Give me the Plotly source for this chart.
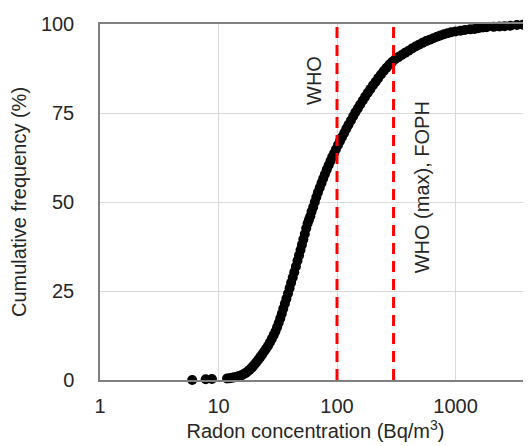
import math
import plotly.graph_objects as go

# Radon concentration (Bq/m3) and cumulative frequency (%)
radon = [6.0, 7.8, 8.8, 11.8, 12.4, 13.0, 13.6, 14.3, 14.9, 15.6, 16.3, 17.0, 17.6, 18.3,
         19.0, 19.6, 20.3, 21.0, 21.8, 22.6, 23.4, 24.3, 25.2, 26.2, 27.2, 28.2, 29.2, 30.2,
         31.2, 32.2, 33.2, 34.2, 35.2, 36.3, 37.4, 38.6, 39.8, 41.0, 42.3, 43.6, 45.0, 46.4,
         47.8, 49.2, 50.6, 52.0, 53.5, 55.0, 56.5, 58.0, 59.5, 61.0, 63.0, 65.0, 67.0, 69.0,
         71.5, 74.0, 76.5, 79.0, 82.0, 85.0, 88.0, 91.0, 94.5, 98.0, 102, 106, 110, 115, 120,
         125, 131, 137, 143, 150, 157, 165, 173, 182, 191, 201, 212, 223, 235, 248, 262, 277,
         293, 310, 330, 352, 376, 402, 430, 460, 492, 528, 566, 607, 650, 697, 748, 800, 858,
         920, 1000, 1100, 1200, 1330, 1450, 1560, 1700, 1830, 2100, 2350, 2600, 2900, 3300,
         3700, 4200, 4800]
cum_freq = [0.0, 0.2, 0.3, 0.4, 0.5, 0.6, 0.8, 0.9, 1.1, 1.3, 1.6, 2.0, 2.4, 2.9,
            3.4, 3.9, 4.5, 5.1, 5.8, 6.5, 7.2, 8.0, 8.8, 9.6, 10.6, 11.6, 12.6, 13.6,
            14.8, 16.0, 17.3, 18.6, 20.0, 21.4, 22.8, 24.3, 25.8, 27.3, 28.8, 30.3, 31.9, 33.5,
            35.0, 36.5, 38.0, 39.5, 41.0, 42.6, 44.0, 45.0, 46.0, 47.3, 48.6, 50.0, 51.4, 52.7,
            54.0, 55.3, 56.6, 57.8, 59.1, 60.3, 61.5, 62.6, 63.7, 64.8, 66.0, 67.1, 68.2, 69.4, 70.6,
            71.7, 72.9, 74.1, 75.2, 76.3, 77.4, 78.5, 79.6, 80.7, 81.7, 82.8, 83.8, 84.8, 85.8, 86.8, 87.7, 88.6,
            89.4, 90.1, 90.7, 91.3, 91.9, 92.5, 93.1, 93.7, 94.2, 94.7, 95.2, 95.6, 96.0, 96.4, 96.8, 97.1, 97.4,
            97.7, 97.9, 98.1, 98.3, 98.5, 98.6, 98.8, 99.0, 99.1, 99.2, 99.3, 99.4, 99.5, 99.7,
            99.8, 99.9, 100.0]

# Reference levels (Bq/m3)
ref_values = [100, 300]
ref_labels = ["WHO", "WHO (max), FOPH"]
ref_label_y = [84, 54]
ref_label_shift = [-23, 28]

x_ticks = [1, 10, 100, 1000]
y_ticks = [0, 25, 50, 75, 100]

FONT = "Liberation Sans, Arial, sans-serif"
TXT = "#262626"

fig = go.Figure()
fig.add_trace(go.Scatter(
    x=radon, y=cum_freq, mode="markers",
    marker=dict(color="black", size=10, line=dict(width=0)),
    cliponaxis=False, showlegend=False,
))
for v in ref_values:
    fig.add_trace(go.Scatter(
        x=[v, v], y=[0, 100], mode="lines",
        line=dict(color="#ff0000", width=3, dash="11px,7px"),
        showlegend=False, hoverinfo="skip",
    ))

for v, lab, yy, sh in zip(ref_values, ref_labels, ref_label_y, ref_label_shift):
    fig.add_annotation(
        x=math.log10(v), y=yy, text=lab, textangle=-90, showarrow=False,
        xshift=sh, font=dict(family=FONT, size=20, color=TXT),
    )

# The page body has an 8px default margin, so the figure is sized/offset to fit the window.
fig.update_layout(
    width=523, height=438,
    margin=dict(l=92, r=0, t=16, b=66, autoexpand=False),
    paper_bgcolor="white", plot_bgcolor="white",
    font=dict(family=FONT, size=20, color=TXT),
    xaxis=dict(
        type="log", range=[0, 3.637], automargin=False,
        tickvals=x_ticks, ticktext=[str(t) for t in x_ticks],
        showgrid=True, gridcolor="#d9d9d9", gridwidth=1,
        showline=True, linecolor="#808080", linewidth=1.5, mirror=True,
        ticks="", ticklabelstandoff=7, zeroline=False,
        title=dict(text="Radon concentration (Bq/m<sup>3</sup>)", standoff=3,
                   font=dict(family=FONT, size=20, color=TXT)),
    ),
    yaxis=dict(
        range=[0, 100], tickvals=y_ticks, automargin=False,
        showgrid=True, gridcolor="#d9d9d9", gridwidth=1,
        showline=True, linecolor="#808080", linewidth=1.5,
        ticks="", ticklabelstandoff=20, zeroline=False,
        title=dict(text="Cumulative frequency (%)", standoff=13,
                   font=dict(family=FONT, size=20, color=TXT)),
    ),
)

fig.write_html("out.html")
